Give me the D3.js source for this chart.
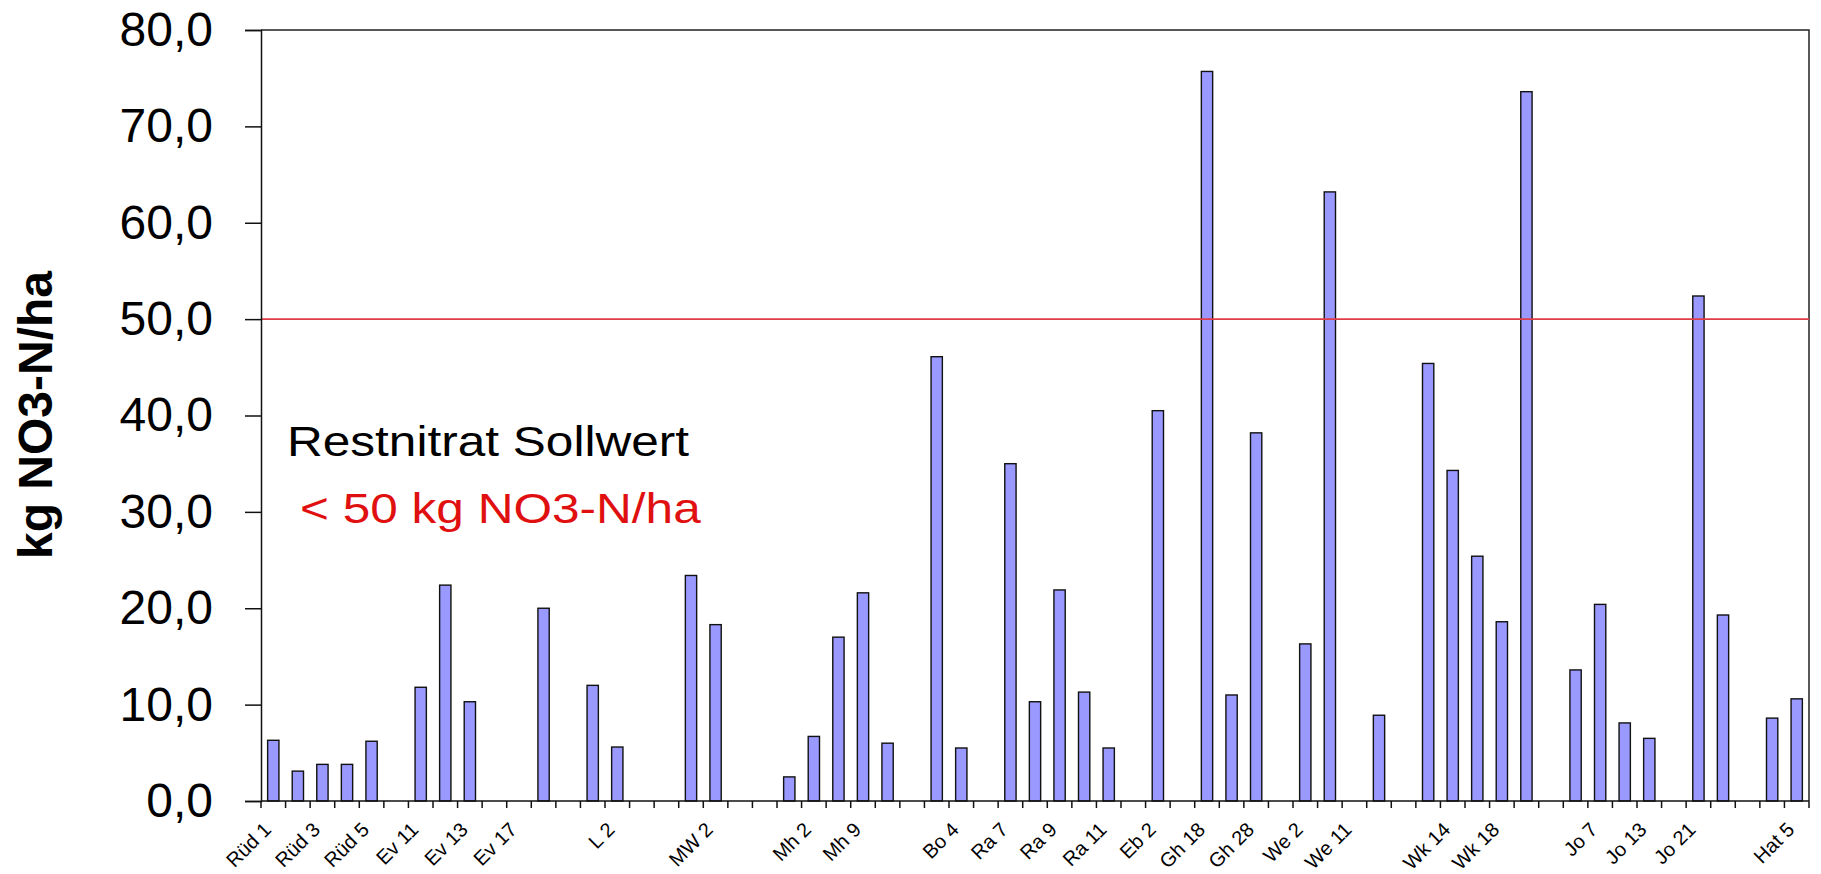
<!DOCTYPE html>
<html>
<head>
<meta charset="utf-8">
<script src="https://cdn.jsdelivr.net/npm/d3@7"></script>
<style>
  body { margin: 0; background: #fff; }
  #chart { position: relative; width: 1821px; height: 874px; }
  svg { display: block; font-family: "Liberation Sans", Arial, sans-serif; }
  .xlabel-anchor { position: absolute; width: 0; height: 0; }
  .xlabel {
    position: absolute; right: 0; bottom: 0;
    font-family: "Liberation Sans", Arial, sans-serif;
    font-size: 20px; line-height: 20px; white-space: nowrap; color: #000;
    transform-origin: 100% 100%;
    transform: rotate(-45deg);
  }
</style>
</head>
<body>
<div id="chart"></div>
<script>
// category labels (only every second one is printed, blanks stay blank)
const tickLabels = [
    'Rüd 1', '', 'Rüd 3', '', 'Rüd 5', '', 'Ev 11', '', 'Ev 13', '', 'Ev 17', '',
    '', '', 'L 2', '', '', '', 'MW 2', '', '', '', 'Mh 2', '', 'Mh 9', '', '', '',
    'Bo 4', '', 'Ra 7', '', 'Ra 9', '', 'Ra 11', '', 'Eb 2', '', 'Gh 18', '',
    'Gh 28', '', 'We 2', '', 'We 11', '', '', '', 'Wk 14', '', 'Wk 18', '', '', '',
    'Jo 7', '', 'Jo 13', '', 'Jo 21', '', '', '', 'Hat 5'
];

// kg NO3-N/ha per field (null = no bar)
const values = [
    6.3, 3.1, 3.8, 3.8, 6.2, null, 11.8, 22.4, 10.3, null, null, 20.0,
    null, 12.0, 5.6, null, null, 23.4, 18.3, null, null, 2.5, 6.7, 17.0,
    21.6, 6.0, null, 46.1, 5.5, null, 35.0, 10.3, 21.9, 11.3, 5.5, null,
    40.5, null, 75.7, 11.0, 38.2, null, 16.3, 63.2, null, 8.9, null, 45.4,
    34.3, 25.4, 18.6, 73.6, null, 13.6, 20.4, 8.1, 6.5, null, 52.4, 19.3,
    null, 8.6, 10.6
];

const yTicks = [0, 10, 20, 30, 40, 50, 60, 70, 80];
const limit = 50;

const width = 1821, height = 874;
const margin = { top: 30, right: 12, bottom: 73, left: 261 };
const innerW = width - margin.left - margin.right;
const innerH = height - margin.top - margin.bottom;

const svg = d3.select('#chart').append('svg')
    .attr('width', width)
    .attr('height', height);

const g = svg.append('g')
    .attr('transform', `translate(${margin.left},${margin.top})`);

const x = d3.scaleBand()
    .domain(d3.range(values.length))
    .range([0, innerW])
    .paddingInner(0.54)
    .paddingOuter(0.27);

const step = innerW / values.length;

const y = d3.scaleLinear()
    .domain([0, 80])
    .range([innerH, 0]);

// bars
g.selectAll('.bar')
    .data(values.map((v, i) => ({ i, v })).filter(d => d.v !== null))
    .enter()
    .append('rect')
    .attr('class', 'bar')
    .attr('x', d => x(d.i))
    .attr('width', x.bandwidth())
    .attr('y', d => y(d.v))
    .attr('height', d => innerH - y(d.v))
    .style('fill', '#9999ff')
    .style('stroke', '#111')
    .style('stroke-width', 1.4);

// plot frame (top + right)
g.append('path')
    .attr('d', `M0,0H${innerW}V${innerH}`)
    .style('fill', 'none')
    .style('stroke', '#222')
    .style('stroke-width', 1.5);

// limit line
g.append('line')
    .attr('x1', 0)
    .attr('x2', innerW)
    .attr('y1', y(limit))
    .attr('y2', y(limit))
    .style('stroke', '#e03c46')
    .style('stroke-width', 1.6);

// y axis
const yAxis = g.append('g')
    .call(d3.axisLeft(y)
        .tickValues(yTicks)
        .tickSize(16)
        .tickPadding(32)
        .tickFormat(d => d3.format('.1f')(d).replace('.', ',')));
yAxis.select('.domain').style('stroke', '#111').style('stroke-width', 1.5);
yAxis.selectAll('.tick line').style('stroke', '#111').style('stroke-width', 1.5);
yAxis.selectAll('text')
    .style('font-size', '48px')
    .style('fill', '#000');

// x axis: ticks between categories
const xAxis = g.append('g')
    .attr('transform', `translate(0,${innerH})`);
xAxis.append('line')
    .attr('x1', 0).attr('x2', innerW)
    .style('stroke', '#111')
    .style('stroke-width', 1.5);
xAxis.selectAll('.xtick')
    .data(d3.range(values.length + 1))
    .enter()
    .append('line')
    .attr('x1', d => d * step)
    .attr('x2', d => d * step)
    .attr('y1', 0)
    .attr('y2', 7)
    .style('stroke', '#111')
    .style('stroke-width', 1.5);

// rotated category labels as html, right end pinned below each bar
d3.select('#chart').selectAll('.xlabel-anchor')
    .data(tickLabels.map((t, i) => ({ t, i })).filter(d => d.t !== ''))
    .enter()
    .append('div')
    .attr('class', 'xlabel-anchor')
    .style('left', d => (margin.left + x(d.i) + x.bandwidth() / 2 + 1) + 'px')
    .style('top', (margin.top + innerH + 32) + 'px')
    .append('span')
    .attr('class', 'xlabel')
    .text(d => d.t);

// y axis title
svg.append('text')
    .attr('transform', 'translate(52,415) rotate(-90)')
    .style('text-anchor', 'middle')
    .style('font-size', '48px')
    .style('font-weight', 'bold')
    .text('kg NO3-N/ha');

// annotation
svg.append('text')
    .attr('transform', 'translate(287,456) scale(1.18,1)')
    .style('font-size', '42px')
    .style('fill', '#000')
    .text('Restnitrat Sollwert');

svg.append('text')
    .attr('transform', 'translate(300,523) scale(1.18,1)')
    .style('font-size', '42px')
    .style('fill', '#e01010')
    .text('< 50 kg NO3-N/ha');
</script>
</body>
</html>
